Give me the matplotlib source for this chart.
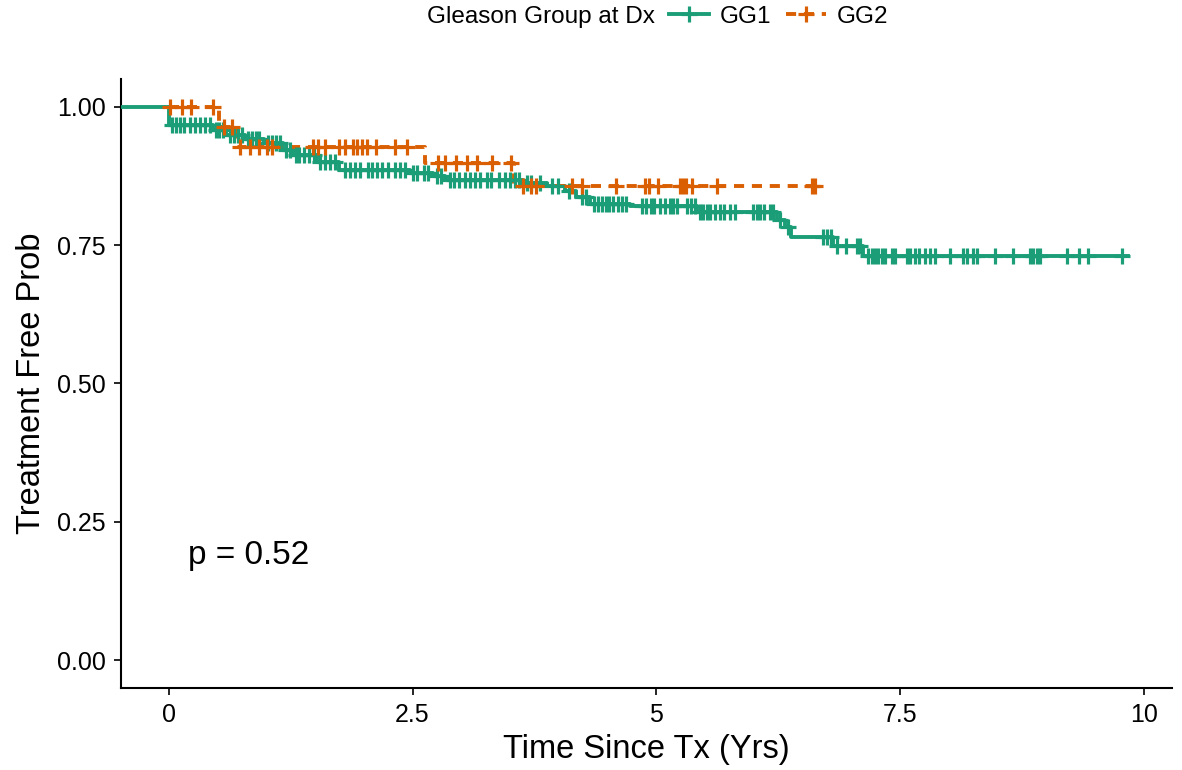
import numpy as np
import matplotlib
matplotlib.use("Agg")
import matplotlib.pyplot as plt
from matplotlib.lines import Line2D

plt.rcParams['font.family'] = ['Liberation Sans', 'DejaVu Sans']

# ---- data ----
groups = ["GG1", "GG2"]
colors = ["#1B9E77", "#D95F02"]

gg1_start = -0.47
gg1_end = 9.84
gg1_event_times = [0.0, 0.45, 0.59, 0.78, 0.98, 1.17, 1.27, 1.52, 1.75, 2.47, 2.71, 2.83,
                   3.63, 3.88, 4.06, 4.18, 4.32, 4.73, 5.42, 6.24, 6.32, 6.38, 6.81, 7.12]
gg1_surv = [0.967, 0.957, 0.949, 0.942, 0.935, 0.922, 0.913, 0.900, 0.886, 0.881, 0.874, 0.868,
            0.863, 0.856, 0.847, 0.836, 0.825, 0.821, 0.810, 0.796, 0.782, 0.765, 0.749, 0.731]
gg1_censor = [0.03, 0.07, 0.11, 0.16, 0.22, 0.27, 0.32, 0.37, 0.42,
              0.48, 0.52, 0.56, 0.63, 0.67, 0.71, 0.75, 0.81, 0.85, 0.89, 0.93,
              1.02, 1.06, 1.10, 1.14, 1.20, 1.24, 1.30, 1.34, 1.39, 1.44, 1.49,
              1.55, 1.60, 1.65, 1.70, 1.81, 1.86, 1.91, 1.96, 2.04, 2.08, 2.14, 2.19,
              2.25, 2.32, 2.37, 2.42, 2.51, 2.55, 2.62, 2.66, 2.75, 2.79,
              2.88, 2.93, 2.98, 3.04, 3.09, 3.14, 3.19, 3.26, 3.31, 3.39, 3.45, 3.50,
              3.55, 3.59, 3.67, 3.72, 3.81, 3.93, 3.99, 4.11, 4.24, 4.28,
              4.36, 4.40, 4.44, 4.48, 4.52, 4.56, 4.61, 4.65, 4.69,
              4.85, 4.90, 4.95, 4.98, 5.04, 5.09, 5.14, 5.17, 5.21, 5.32, 5.36, 5.40,
              5.45, 5.48, 5.52, 5.55, 5.60, 5.65, 5.70, 5.76, 5.81, 5.99, 6.03, 6.06,
              6.11, 6.17, 6.20, 6.27, 6.35, 6.71, 6.75, 6.79, 6.85, 6.95, 7.06, 7.09,
              7.17, 7.21, 7.24, 7.27, 7.32, 7.35, 7.42, 7.45, 7.57, 7.60, 7.65, 7.70,
              7.76, 7.81, 7.86, 8.01, 8.15, 8.19, 8.25, 8.29, 8.47, 8.66, 8.83, 8.86,
              8.91, 8.94, 9.21, 9.34, 9.43, 9.78]

gg2_start = 0.0
gg2_end = 6.63
gg2_event_times = [0.52, 0.70, 2.63, 3.54]
gg2_surv = [0.964, 0.928, 0.899, 0.856]
gg2_censor = [0.01, 0.14, 0.23, 0.45, 0.57, 0.65,
              0.73, 0.83, 0.93, 1.01, 1.06, 1.48, 1.53, 1.60, 1.75, 1.81, 1.89, 1.93,
              1.98, 2.03, 2.13, 2.32, 2.44,
              2.76, 2.83, 2.95, 3.06, 3.16, 3.32, 3.51,
              3.63, 3.72, 3.77, 4.14, 4.24, 4.59, 4.88, 4.93, 5.02, 5.24, 5.27, 5.31,
              5.37, 5.62, 6.60, 6.63]

x_ticks = [0, 2.5, 5, 7.5, 10]
x_tick_labels = ["0", "2.5", "5", "7.5", "10"]
y_ticks = [0, 0.25, 0.5, 0.75, 1.0]
y_tick_labels = ["0.00", "0.25", "0.50", "0.75", "1.00"]
p_text = "p = 0.52"

# ---- plot ----
fig = plt.figure(figsize=(11.82, 7.70), dpi=100)
ax = fig.add_axes([0.1024, 0.1065, 0.8891, 0.7909])

LW = 2.8
DASH = (2.6, 2.0)
MS = 11.5
MEW = 2.3
curves = [
    (gg1_start, gg1_end, gg1_event_times, gg1_surv, gg1_censor, "-"),
    (gg2_start, gg2_end, gg2_event_times, gg2_surv, gg2_censor, "--"),
]
for (start, end, et, sv, cens, ls), col in zip(curves, colors):
    xs = np.array([start] + list(et) + [end])
    ys = np.array([1.0] + list(sv) + [sv[-1]])
    line, = ax.step(xs, ys, where="post", color=col, lw=LW, linestyle=ls, zorder=3)
    if ls == "--":
        line.set_dashes(DASH)
    c = np.array(cens)
    idx = np.searchsorted(xs, c, side="right") - 1
    ax.plot(c, ys[idx], linestyle="none", marker="+", markersize=MS,
            markeredgewidth=MEW, color=col, zorder=4)

ax.set_xlim(-0.49, 10.29)
ax.set_ylim(-0.05, 1.05)
ax.set_xticks(x_ticks)
ax.set_xticklabels(x_tick_labels)
ax.set_yticks(y_ticks)
ax.set_yticklabels(y_tick_labels)
ax.tick_params(axis="both", labelsize=18, colors="black", length=5, width=1.2,
               direction="out", pad=6)
for s in ["top", "right"]:
    ax.spines[s].set_visible(False)
for s in ["left", "bottom"]:
    ax.spines[s].set_linewidth(1.5)
    ax.spines[s].set_color("black")

ax.set_xlabel("Time Since Tx (Yrs)", fontsize=23.5, labelpad=5)
ax.set_ylabel("Treatment Free Prob", fontsize=23.5, labelpad=7)
ax.text(0.2, 0.19, p_text, fontsize=24, ha="left", va="center")

# legend at top
fig.text(0.554, 0.978, "Gleason Group at Dx", fontsize=17.5, ha="right", va="center")
handles = [Line2D([0], [0], color=colors[0], lw=LW, marker="+", markersize=MS, markeredgewidth=MEW),
           Line2D([0], [0], color=colors[1], lw=LW, linestyle="--", dashes=DASH,
                  marker="+", markersize=MS, markeredgewidth=MEW)]
fig.legend(handles, groups, ncol=2, loc="center left", bbox_to_anchor=(0.566, 0.978),
           frameon=False, fontsize=17.5, handlelength=1.65, handletextpad=0.45,
           columnspacing=0.6, borderaxespad=0, borderpad=0)

fig.savefig("out.png", dpi=100)
